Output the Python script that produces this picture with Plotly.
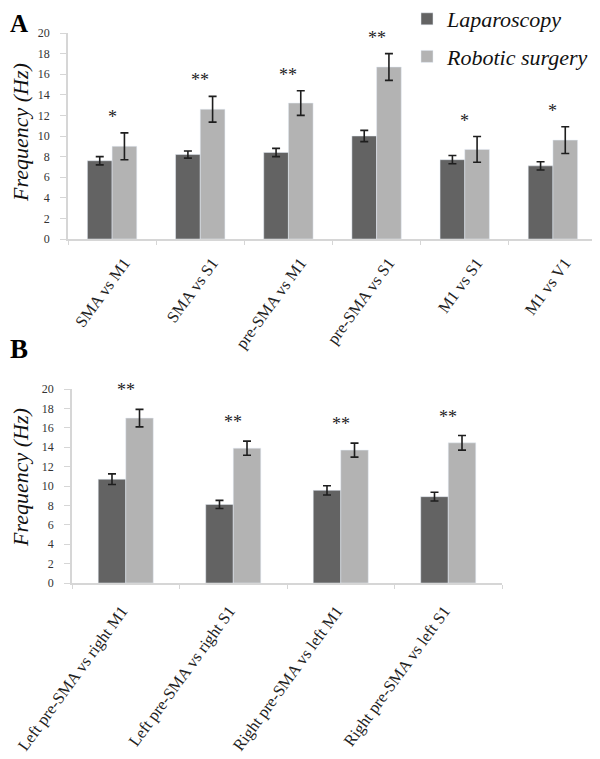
import plotly.graph_objects as go

# ---------------- data ----------------
cats_a = ["SMA vs M1", "SMA vs S1", "pre-SMA vs M1", "pre-SMA vs S1", "M1 vs S1", "M1 vs V1"]
lap_a = [7.6, 8.2, 8.4, 10.0, 7.7, 7.1]
lap_a_err = [0.4, 0.35, 0.4, 0.55, 0.4, 0.4]
rob_a = [9.0, 12.6, 13.2, 16.7, 8.7, 9.6]
rob_a_err = [1.3, 1.25, 1.2, 1.3, 1.25, 1.3]
stars_a = ["*", "**", "**", "**", "*", "*"]

cats_b = ["Left pre-SMA vs right M1", "Left pre-SMA vs right S1",
          "Right pre-SMA vs left M1", "Right pre-SMA vs left S1"]
lap_b = [10.7, 8.1, 9.55, 8.9]
lap_b_err = [0.55, 0.42, 0.48, 0.45]
rob_b = [17.0, 13.9, 13.7, 14.45]
rob_b_err = [0.9, 0.73, 0.72, 0.75]
stars_b = ["**", "**", "**", "**"]

y_ticks = [0, 2, 4, 6, 8, 10, 12, 14, 16, 18, 20]
series_names = ["Laparoscopy", "Robotic surgery"]

# ---------------- style ----------------
DARK = "#636363"
LIGHT = "#b3b3b3"
AXC = "#d6d6d6"
SERIF = "Liberation Serif"
PAGE_PAD = 8            # default body margin of the html page
W, H = 600 - PAGE_PAD, 759 - PAGE_PAD

def px_x(p):
    return (p - PAGE_PAD) / W

def px_y(p):
    return 1 - (p - PAGE_PAD) / H

fig = go.Figure()

def add_panel(cats, lap, lap_err, rob, rob_err, xa, ya, w, show):
    err_style = dict(type="data", visible=True, color="#1e1e1e", thickness=1.6, width=4)
    fig.add_trace(go.Bar(x=cats, y=lap, name=series_names[0], marker_color=DARK,
                         width=w, offset=-w, xaxis=xa, yaxis=ya,
                         error_y=dict(array=lap_err, **err_style),
                         showlegend=show, legendgroup="lap"))
    fig.add_trace(go.Bar(x=cats, y=rob, name=series_names[1], marker_color=LIGHT,
                         width=w, offset=0, xaxis=xa, yaxis=ya,
                         error_y=dict(array=rob_err, **err_style),
                         showlegend=show, legendgroup="rob"))

add_panel(cats_a, lap_a, lap_a_err, rob_a, rob_a_err, "x", "y", 0.28, True)
add_panel(cats_b, lap_b, lap_b_err, rob_b, rob_b_err, "x2", "y2", 0.256, False)

annotations = []
for c, r, e, s in zip(cats_a, rob_a, rob_a_err, stars_a):
    annotations.append(dict(x=c, y=r + e, xref="x", yref="y", text=s, showarrow=False,
                            yanchor="bottom", yshift=4, font=dict(family=SERIF, size=18, color="#222")))
for c, r, e, s in zip(cats_b, rob_b, rob_b_err, stars_b):
    annotations.append(dict(x=c, y=r + e, xref="x2", yref="y2", text=s, showarrow=False,
                            yanchor="bottom", yshift=7, font=dict(family=SERIF, size=18, color="#222")))

# panel letters
annotations.append(dict(x=0, y=1, xref="paper", yref="paper", text="<b>A</b>",
                        showarrow=False, xanchor="left", yanchor="top",
                        font=dict(family=SERIF, size=25, color="#000")))
annotations.append(dict(x=0, y=px_y(349), xref="paper", yref="paper", text="<b>B</b>",
                        showarrow=False, xanchor="left", yanchor="middle",
                        font=dict(family=SERIF, size=27, color="#000")))
# y-axis titles
for yc in (133, 478):
    annotations.append(dict(x=px_x(21), y=px_y(yc), xref="paper", yref="paper",
                            text="Frequency (Hz)", textangle=-90, showarrow=False,
                            xanchor="center", yanchor="middle",
                            font=dict(family=SERIF, size=22, color="#111", style="italic")))

yaxis_common = dict(range=[0, 20], tickvals=y_ticks, showgrid=False, zeroline=False,
                    showline=True, linecolor=AXC, linewidth=1.5, ticks="outside",
                    ticklen=6, tickcolor=AXC, ticklabelstandoff=8,
                    tickfont=dict(family=SERIF, size=12, color="#333"), fixedrange=True)
xaxis_common = dict(showgrid=False, zeroline=False, showline=True, linecolor=AXC,
                    linewidth=1.5, ticks="outside", tickson="boundaries", ticklen=4,
                    tickcolor=AXC, tickangle=-54,
                    tickfont=dict(family=SERIF, size=16.5, color="#222"))

fig.update_layout(
    width=W, height=H,
    margin=dict(l=0, r=0, t=0, b=0, autoexpand=False),
    paper_bgcolor="white", plot_bgcolor="white",
    barmode="overlay",
    xaxis=dict(domain=[px_x(68), px_x(597)], anchor="y", ticklabelshift=12,
               ticklabelstandoff=6, **xaxis_common),
    yaxis=dict(domain=[px_y(239), px_y(33)], anchor="x", **yaxis_common),
    xaxis2=dict(domain=[px_x(72), px_x(502)], anchor="y2", ticklabelshift=-4,
                ticklabelstandoff=10, **xaxis_common),
    yaxis2=dict(domain=[px_y(583), px_y(389)], anchor="x2", **yaxis_common),
    legend=dict(x=px_x(407), y=px_y(-2), xanchor="left", yanchor="top",
                tracegroupgap=6, bgcolor="rgba(0,0,0,0)",
                font=dict(family=SERIF, size=22, color="#111", style="italic")),
    annotations=annotations,
)

fig.write_html("out.html")
